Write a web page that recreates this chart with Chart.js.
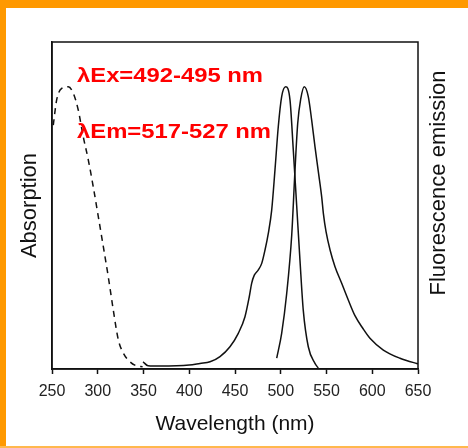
<!DOCTYPE html>
<html>
<head>
<meta charset="utf-8">
<script src="https://cdn.jsdelivr.net/npm/chart.js@4"></script>
<style>
    html, body { margin: 0; padding: 0; background: #fff; }
    #wrap { width: 468px; height: 448px; }
</style>
</head>
<body>
<div id="wrap"><canvas id="specChart" width="468" height="448"></canvas></div>
<script>
// Wavelength axis ticks
const xTicks = [250, 300, 350, 400, 450, 500, 550, 600, 650];

// Absorption spectrum (dashed)
const absWl  = [251.4, 255.1, 260.6, 267.8, 273.3, 278.7, 284.2, 289.7, 295.1, 300.6, 306.1, 311.5, 317, 322.5, 327.9, 335.2, 342, 349];
const absVal = [74.6, 82.3, 85.8, 86.3, 84.3, 79.2, 71.0, 63.9, 55.7, 46.6, 37.4, 28.2, 18.0, 8.9, 4.9, 2.2, 1.0, 0.7];

// Excitation spectrum (solid, left peak)
const exWl  = [349.5, 355, 368, 400, 411.7, 422.7, 433.6, 444.5, 453.6, 460.9, 465.6, 468.2, 471.1, 475.5, 479.2, 482.8, 486.4, 490.1, 493.7, 497.3, 501, 505.4, 510.1, 513.7, 517.4, 521, 524.6, 530.1, 537.4, 541];
const exVal = [2.2, 1.0, 0.9, 1.2, 1.7, 2.2, 3.8, 6.8, 10.9, 16.0, 22.1, 26.2, 28.7, 30.3, 32.3, 36.4, 41.5, 48.6, 60.9, 74.1, 83.3, 86.3, 82.3, 67.0, 50.0, 33.3, 18.0, 6.8, 1.7, 0.3];

// Emission spectrum (solid, right peak)
const emWl  = [495.6, 501, 506.5, 512, 515.6, 518.5, 521.8, 525.7, 530.1, 533.8, 537.4, 541, 544.8, 546.6, 549.5, 553.9, 559.3, 566.6, 573.8, 581.1, 590, 597.5, 612.1, 630.3, 648.6, 650];
const emVal = [3.3, 10.9, 23.1, 41.0, 61.0, 75.0, 82.5, 86.3, 83.3, 76.1, 68.0, 60.5, 52.5, 47.5, 42.0, 36.4, 31.3, 26.2, 21.1, 16.3, 12.3, 9.4, 5.8, 3.3, 1.7, 1.6];

const labelEx = 'λEx=492-495 nm';
const labelEm = 'λEm=517-527 nm';

const FONT = '"Liberation Sans", Arial, Helvetica, sans-serif';

function toPoints(xs, ys) {
    return xs.map((x, i) => ({ x: x, y: ys[i] }));
}

// draw text stretched horizontally to a target width
function stretchText(ctx, text, x, y, width) {
    const w = ctx.measureText(text).width;
    ctx.save();
    ctx.translate(x, y);
    ctx.scale(width / w, 1);
    ctx.fillText(text, 0, 0);
    ctx.restore();
}

// frame, orange border, red labels and right-side title
const decorPlugin = {
    id: 'decor',
    beforeDraw(chart) {
        const ctx = chart.ctx;
        ctx.save();
        ctx.fillStyle = '#fff';
        ctx.fillRect(0, 0, chart.width, chart.height);
        ctx.restore();
    },
    afterDraw(chart) {
        const ctx = chart.ctx;
        const a = chart.chartArea;
        ctx.save();
        // plot frame
        ctx.strokeStyle = '#111';
        ctx.lineWidth = 1.5;
        ctx.strokeRect(a.left, a.top, a.right - a.left, a.bottom - a.top);

        // annotations
        ctx.fillStyle = '#ff0000';
        ctx.font = 'bold 21px ' + FONT;
        ctx.textBaseline = 'alphabetic';
        stretchText(ctx, labelEx, 77, 82, 186);
        stretchText(ctx, labelEm, 77, 138, 194);

        // right title
        ctx.fillStyle = '#111';
        ctx.font = '22px ' + FONT;
        ctx.textAlign = 'center';
        ctx.textBaseline = 'middle';
        ctx.translate(439, 183);
        ctx.rotate(-Math.PI / 2);
        ctx.fillText('Fluorescence emission', 0, 0);
        ctx.restore();

        // orange border
        ctx.save();
        ctx.fillStyle = '#ff9900';
        ctx.fillRect(0, 0, chart.width, 8);
        ctx.fillRect(0, 0, 6, chart.height);
        ctx.fillStyle = '#ffb84d';
        ctx.fillRect(0, chart.height - 2, chart.width, 2);
        ctx.restore();
    }
};

const lineStyle = {
    borderColor: '#111',
    borderWidth: 1.5,
    pointRadius: 0,
    fill: false,
    cubicInterpolationMode: 'monotone'
};

new Chart(document.getElementById('specChart').getContext('2d'), {
    type: 'line',
    data: {
        datasets: [
            Object.assign({ label: 'Absorption', data: toPoints(absWl, absVal), borderDash: [6, 5] }, lineStyle),
            Object.assign({ label: 'Excitation', data: toPoints(exWl, exVal) }, lineStyle),
            Object.assign({ label: 'Emission', data: toPoints(emWl, emVal) }, lineStyle)
        ]
    },
    options: {
        responsive: false,
        animation: false,
        layout: { padding: { left: 0, top: 42, right: 50, bottom: 0 } },
        plugins: {
            legend: { display: false },
            tooltip: { enabled: false }
        },
        scales: {
            x: {
                type: 'linear',
                min: 250,
                max: 650,
                afterBuildTicks: scale => { scale.ticks = xTicks.map(v => ({ value: v })); },
                afterFit: scale => { scale.height = 79; },
                grid: {
                    display: true,
                    drawOnChartArea: false,
                    drawTicks: true,
                    tickLength: 5,
                    tickWidth: 1.5,
                    tickColor: '#111'
                },
                border: { display: true, color: '#111', width: 1.5 },
                ticks: {
                    padding: 8,
                    color: '#222',
                    font: { family: FONT, size: 16 }
                },
                title: {
                    display: true,
                    text: 'Wavelength (nm)',
                    color: '#111',
                    font: { family: FONT, size: 21 },
                    padding: { top: 4, bottom: 11 }
                }
            },
            y: {
                min: 0,
                max: 100,
                afterFit: scale => { scale.width = 52; },
                grid: { display: false },
                border: { display: true, color: '#111', width: 1.5 },
                ticks: { display: false },
                title: {
                    display: true,
                    text: 'Absorption',
                    color: '#111',
                    font: { family: FONT, size: 22 },
                    padding: { top: 17, bottom: 0 }
                }
            }
        }
    },
    plugins: [decorPlugin]
});
</script>
</body>
</html>
